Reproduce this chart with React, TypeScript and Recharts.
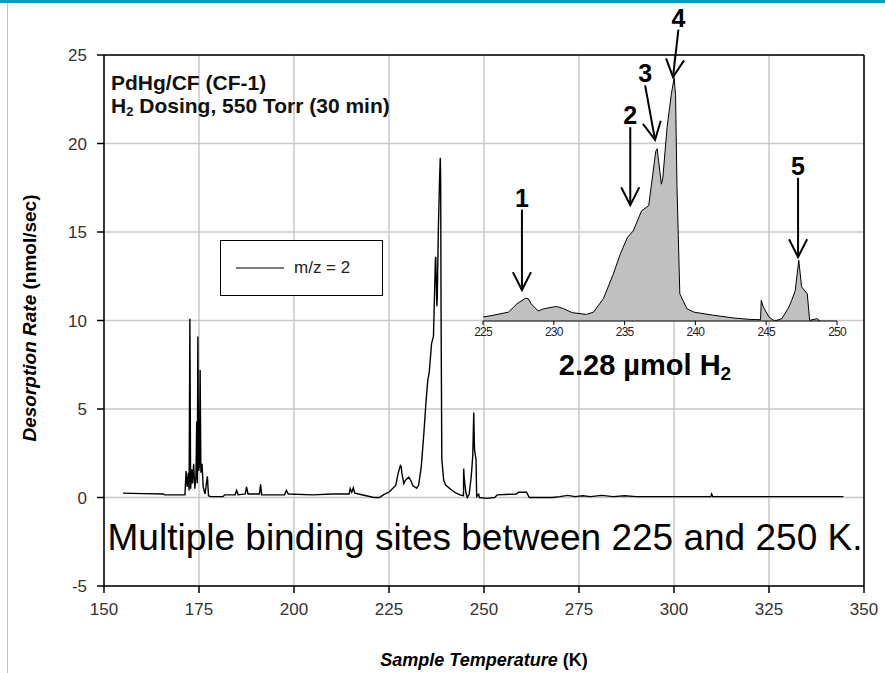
import { LineChart, Line, XAxis, YAxis, CartesianGrid, ReferenceLine, Legend, AreaChart, Area } from 'recharts';

// TPD trace, m/z = 2
const temperatureK = [
  155.0, 160.0, 165.5, 166.0, 171.3, 171.6, 171.9, 172.2, 172.4, 172.6, 172.8, 173.1, 173.3, 173.6, 173.9,
  174.2, 174.4, 174.55, 174.7, 174.9, 175.1, 175.3, 175.5, 175.8, 176.1, 176.6, 177.2, 177.5, 178.0, 181.3,
  181.8, 184.5, 184.9, 185.3, 187.2, 187.5, 187.9, 190.9, 191.2, 191.5, 197.5, 198.0, 198.5, 205.0, 210.0,
  214.5, 214.8, 215.2, 215.6, 216.0, 217.0, 219.0, 221.0, 222.5, 223.5,
  225.0, 225.7, 226.8, 227.4, 228.0, 228.2, 228.4, 228.9, 229.3, 230.2, 230.7, 231.3, 232.3, 232.8, 233.5,
  234.2, 234.7, 235.2, 235.6, 236.2, 236.7, 236.9, 237.2, 237.3, 237.4, 237.6, 237.7, 238.0, 238.3, 238.5,
  238.6, 238.7, 238.9, 239.4, 239.9, 241.3, 242.7, 243.8, 244.6, 244.65, 244.8, 245.2, 245.6, 246.1, 246.6,
  246.8, 247.05, 247.3, 247.5, 247.9, 248.07, 248.6, 248.8,
  250.7, 252.8, 253.5, 258.6, 259.0, 261.2, 261.9, 268.0, 270.0, 272.0, 274.0, 276.0, 278.0, 281.0, 284.0,
  287.0, 290.0, 299.0, 309.7, 309.9, 310.2, 320.0, 344.6,
];
const rateNmolS = [
  0.25, 0.22, 0.2, 0.15, 0.15, 1.5, 0.6, 1.4, 0.4, 10.1, 0.5, 1.6, 0.8, 1.9, 0.5,
  1.2, 4.3, 0.8, 9.1, 1.5, 1.8, 7.2, 1.4, 1.9, 0.6, 0.2, 1.2, 0.1, 0.05, 0.05,
  0.15, 0.15, 0.4, 0.15, 0.2, 0.6, 0.2, 0.2, 0.75, 0.15, 0.15, 0.4, 0.2, 0.15, 0.2,
  0.2, 0.5, 0.3, 0.55, 0.25, 0.2, 0.1, 0.0, 0.0, 0.15,
  0.31, 0.45, 0.7, 1.36, 1.8, 1.76, 1.36, 0.79, 0.97, 1.15, 0.97, 0.66, 0.52, 0.7, 1.76,
  3.7, 5.3, 6.6, 7.1, 8.7, 9.1, 10.8, 13.4, 13.6, 12.65, 10.8, 11.3, 15.3, 17.9, 19.2,
  17.8, 10.6, 2.15, 0.97, 0.7, 0.45, 0.24, 0.13, 0.1, 1.63, 1.1, 0.31, 0.0, 0.18, 1.1,
  1.63, 2.4, 4.8, 2.7, 2.15, 0.05, 0.18, 0.0,
  -0.05, 0.0, 0.15, 0.2, 0.3, 0.3, 0.0, 0.0, 0.05, 0.12, 0.05, 0.1, 0.05, 0.12, 0.05,
  0.1, 0.05, 0.05, 0.05, 0.2, 0.05, 0.05, 0.05,
];

const xTicks = [150, 175, 200, 225, 250, 275, 300, 325, 350];
const yTicks = [-5, 0, 5, 10, 15, 20, 25];
const insetTicks = [225, 230, 235, 240, 245, 250];

// peak markers in the inset (temperature, rate)
const peakLabels = ['1', '2', '3', '4', '5'];
const peakArrowFrom = [
  { x: 227.75, y: 8.8 },
  { x: 235.4, y: 15.3 },
  { x: 236.45, y: 18.6 },
  { x: 238.8, y: 23.0 },
  { x: 247.25, y: 11.3 },
];
const peakArrowTo = [
  { x: 227.75, y: 2.45 },
  { x: 235.4, y: 9.15 },
  { x: 237.15, y: 14.3 },
  { x: 238.42, y: 19.26 },
  { x: 247.25, y: 5.05 },
];

const data = temperatureK.map((t, i) => ({ t, rate: rateNmolS[i] }));
const insetData = data.filter((d) => d.t >= 225 && d.t <= 250);

const FONT = '"Liberation Sans", Arial, sans-serif';

function Arrow(props: any) {
  const { x1, y1, x2, y2, text } = props;
  const ang = Math.atan2(y2 - y1, x2 - x1);
  const len = 20;
  const spread = 0.47;
  const a1 = ang + Math.PI - spread;
  const a2 = ang + Math.PI + spread;
  const head = `${x2 + len * Math.cos(a1)},${y2 + len * Math.sin(a1)} ${x2},${y2} ${x2 + len * Math.cos(a2)},${y2 + len * Math.sin(a2)}`;
  return (
    <g>
      <line x1={x1} y1={y1} x2={x2} y2={y2} stroke="#000" strokeWidth={2} />
      <polyline points={head} fill="none" stroke="#000" strokeWidth={2} />
      <text x={x1} y={y1 - 12} textAnchor="middle" dominantBaseline="central" fontSize={25} fontWeight="bold" fontFamily={FONT} fill="#000">
        {text}
      </text>
    </g>
  );
}

const LegendBox = () => (
  <div style={{ width: 163, height: 56, border: '1px solid #000', background: '#fff', display: 'flex', alignItems: 'center', boxSizing: 'border-box', fontFamily: FONT }}>
    <svg width={63} height={10}>
      <line x1={15} y1={5} x2={63} y2={5} stroke="#000" strokeWidth={1} />
    </svg>
    <span style={{ marginLeft: 10, fontSize: 17, color: '#222' }}>m/z = 2</span>
  </div>
);

export default function App() {
  return (
    <div style={{ position: 'absolute', left: 0, top: 0, width: 885, height: 673, background: '#fff', fontFamily: FONT, overflow: 'hidden' }}>
      <div style={{ position: 'absolute', left: 0, top: 0, width: 885, height: 3, background: '#0a9ad0' }} />
      <div style={{ position: 'absolute', left: 7, top: 3, width: 1, height: 670, background: '#c4c4c4' }} />

      <div style={{ position: 'absolute', left: 0, top: 0 }}>
        <LineChart width={885} height={673} data={data} margin={{ top: 55, right: 21, left: 44, bottom: 47 }}>
          <CartesianGrid stroke="#c8c8c8" strokeWidth={1.5} />
          <XAxis
            dataKey="t"
            type="number"
            domain={[150, 350]}
            ticks={xTicks}
            interval={0}
            height={40}
            tickSize={7}
            tickMargin={10}
            axisLine={{ stroke: '#000', strokeWidth: 1.5 }}
            tickLine={{ stroke: '#000', strokeWidth: 1.5 }}
            tick={{ fill: '#333', fontSize: 17, fontFamily: FONT }}
          />
          <YAxis
            type="number"
            domain={[-5, 25]}
            ticks={yTicks}
            interval={0}
            width={60}
            tickSize={7}
            tickMargin={10}
            axisLine={{ stroke: '#000', strokeWidth: 1.5 }}
            tickLine={{ stroke: '#000', strokeWidth: 1.5 }}
            tick={{ fill: '#333', fontSize: 17, fontFamily: FONT }}
          />
          <ReferenceLine y={25} stroke="#000" strokeWidth={1.5} />
          <ReferenceLine x={350} stroke="#000" strokeWidth={1.5} />
          <Legend
            layout="horizontal"
            verticalAlign="middle"
            align="center"
            content={LegendBox}
            wrapperStyle={{ left: 220, top: 240, width: 163, height: 56 }}
          />
          <Line type="linear" dataKey="rate" name="m/z = 2" stroke="#000" strokeWidth={1.4} dot={false} isAnimationActive={false} />
        </LineChart>
      </div>

      <div style={{ position: 'absolute', left: 463, top: 0 }}>
        <AreaChart width={400} height={345} data={insetData} margin={{ top: 55, right: 26, left: 20, bottom: 0 }}>
          <XAxis
            dataKey="t"
            type="number"
            domain={[225, 250]}
            ticks={insetTicks}
            interval={0}
            height={24}
            tickSize={4}
            tickMargin={2}
            axisLine={{ stroke: '#000', strokeWidth: 1 }}
            tickLine={{ stroke: '#000' }}
            tick={{ fill: '#222', fontSize: 12, fontFamily: FONT, letterSpacing: -0.8 }}
          />
          <YAxis type="number" domain={[0, 21]} hide allowDataOverflow />
          <Area type="linear" dataKey="rate" stroke="#000" strokeWidth={1} fill="#c0c0c0" fillOpacity={1} dot={false} isAnimationActive={false} />
          {peakLabels.map((lab, i) => (
            <ReferenceLine
              key={lab}
              segment={[peakArrowFrom[i], peakArrowTo[i]]}
              ifOverflow="visible"
              shape={(p: any) => <Arrow {...p} text={lab} />}
            />
          ))}
        </AreaChart>
      </div>

      <div style={{ position: 'absolute', left: 111, top: 71, fontSize: 21, fontWeight: 'bold', color: '#111', lineHeight: '23px', whiteSpace: 'nowrap' }}>
        <div>PdHg/CF (CF-1)</div>
        <div>
          H<sub style={{ fontSize: 13, verticalAlign: '-3px' }}>2</sub> Dosing, 550 Torr (30 min)
        </div>
      </div>

      <div style={{ position: 'absolute', left: 645, top: 367, transform: 'translate(-50%, -50%)', fontSize: 29, fontWeight: 'bold', color: '#000', whiteSpace: 'nowrap' }}>
        2.28 µmol H<sub style={{ fontSize: 19, verticalAlign: '-5px' }}>2</sub>
      </div>

      <div style={{ position: 'absolute', left: 485, top: 538, transform: 'translate(-50%, -50%)', fontSize: 37, color: '#000', whiteSpace: 'nowrap' }}>
        Multiple binding sites between 225 and 250 K.
      </div>

      <div style={{ position: 'absolute', left: 30, top: 318, transform: 'translate(-50%, -50%) rotate(-90deg)', fontSize: 19, fontWeight: 'bold', color: '#000', whiteSpace: 'nowrap' }}>
        <i>Desorption Rate</i> (nmol/sec)
      </div>

      <div style={{ position: 'absolute', left: 484, top: 660, transform: 'translate(-50%, -50%)', fontSize: 18, fontWeight: 'bold', color: '#000', whiteSpace: 'nowrap' }}>
        <i>Sample Temperature</i> (K)
      </div>
    </div>
  );
}
